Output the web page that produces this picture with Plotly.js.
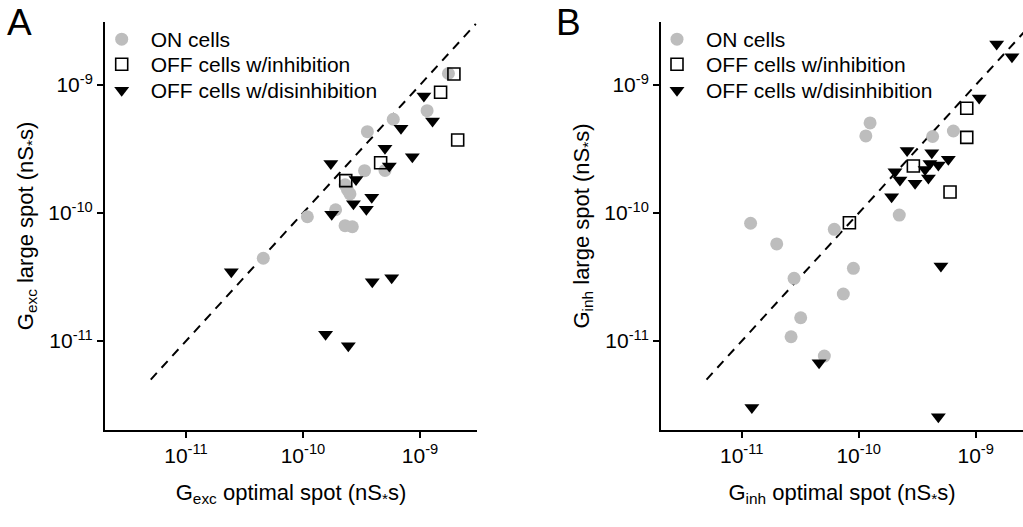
<!DOCTYPE html>
<html>
<head>
<meta charset="utf-8">
<script src="https://cdn.plot.ly/plotly-3.0.1.min.js"></script>
<style>html,body{margin:0;padding:0;background:#fff;}#chart{width:1023px;height:527px;}</style>
</head>
<body>
<div id="chart"></div>
<script>
// ---------- Panel A: G_exc (nS*s) ----------
var excOnX   = [4.58e-11, 1.09e-10, 1.90e-10, 2.29e-10, 2.64e-10, 2.29e-10, 2.52e-10, 2.40e-10, 3.36e-10, 5.02e-10, 3.55e-10, 5.91e-10, 1.15e-9, 1.75e-9];
var excOnY   = [4.43e-11, 9.35e-11, 1.06e-10, 7.96e-11, 7.81e-11, 1.66e-10, 1.41e-10, 1.52e-10, 2.14e-10, 2.15e-10, 4.32e-10, 5.40e-10, 6.30e-10, 1.23e-9];
var excInhX  = [2.32e-10, 4.61e-10, 1.50e-9, 1.95e-9, 2.10e-9];
var excInhY  = [1.79e-10, 2.47e-10, 8.77e-10, 1.22e-9, 3.72e-10];
var excDisX  = [2.44e-11, 1.56e-10, 2.44e-10, 3.91e-10, 5.73e-10, 1.73e-10, 5.02e-10, 8.60e-10, 6.88e-10, 1.08e-9, 1.28e-9, 3.87e-10, 3.48e-10, 2.70e-10, 1.76e-10, 2.84e-10, 5.47e-10];
var excDisY  = [3.48e-11, 1.13e-11, 9.2e-12, 2.90e-11, 3.12e-11, 2.44e-10, 3.20e-10, 2.75e-10, 4.59e-10, 8.2e-10, 5.23e-10, 1.33e-10, 1.07e-10, 1.18e-10, 9.8e-11, 1.83e-10, 2.33e-10];

// ---------- Panel B: G_inh (nS*s) ----------
var inhOnX   = [1.19e-11, 1.99e-11, 2.80e-11, 3.19e-11, 2.64e-11, 5.08e-11, 6.18e-11, 9.0e-11, 7.38e-11, 2.22e-10, 1.25e-10, 1.15e-10, 4.28e-10, 6.44e-10];
var inhOnY   = [8.32e-11, 5.73e-11, 3.09e-11, 1.52e-11, 1.08e-11, 7.63e-12, 7.46e-11, 3.70e-11, 2.33e-11, 9.64e-11, 5.05e-10, 4.0e-10, 3.96e-10, 4.37e-10];
var inhInhX  = [8.32e-11, 2.93e-10, 6.03e-10, 8.38e-10, 8.38e-10];
var inhInhY  = [8.39e-11, 2.33e-10, 1.46e-10, 3.90e-10, 6.58e-10];
var inhDisX  = [1.51e-9, 2.04e-9, 1.07e-9, 2.59e-10, 4.21e-10, 5.83e-10, 4.79e-10, 4.06e-10, 3.69e-10, 3.94e-10, 3.03e-10, 2.25e-10, 2.04e-10, 1.91e-10, 5.04e-10, 4.79e-10, 4.58e-11, 1.22e-11];
var inhDisY  = [2.09e-9, 1.66e-9, 7.91e-10, 3.08e-10, 2.96e-10, 2.63e-10, 2.37e-10, 2.44e-10, 2.19e-10, 1.88e-10, 1.71e-10, 1.81e-10, 2.10e-10, 1.34e-10, 3.86e-11, 2.56e-12, 6.76e-12, 3.03e-12];

// unity (y = x) reference line end points
var unityLine = [5e-12, 3e-9];

// labels
var seriesNames = ["ON cells", "OFF cells w/inhibition", "OFF cells w/disinhibition"];
var tickVals = [1e-11, 1e-10, 1e-9];
var tickText = ["10<sup>-11</sup>", "10<sup>-10</sup>", "10<sup>-9</sup>"];

var FONT = "Liberation Sans, Arial, sans-serif";
var gray = "#bdbdbd";

function markerOn()  { return {symbol: "circle", size: 13, color: gray, line: {width: 0}}; }
function markerInh() { return {symbol: "square", size: 12, color: "rgba(255,255,255,0)", line: {width: 1.6, color: "#000"}}; }
function markerDis() { return {symbol: "triangle-down", size: 13, color: "#000", line: {width: 0}}; }

function panel(xa, ya, legs, onX, onY, inhX, inhY, disX, disY) {
  return [
    {type: "scatter", mode: "lines", x: unityLine, y: unityLine, xaxis: xa, yaxis: ya, showlegend: false,
     line: {color: "#000", width: 2, dash: "9px,7px"}, hoverinfo: "skip"},
    {type: "scatter", mode: "markers", name: seriesNames[0], x: onX, y: onY, xaxis: xa, yaxis: ya, legend: legs[0], marker: markerOn()},
    {type: "scatter", mode: "markers", name: seriesNames[1], x: inhX, y: inhY, xaxis: xa, yaxis: ya, legend: legs[1], marker: markerInh()},
    {type: "scatter", mode: "markers", name: seriesNames[2], x: disX, y: disY, xaxis: xa, yaxis: ya, legend: legs[2], marker: markerDis()}
  ];
}

var data = [].concat(
  panel("x", "y", ["legend", "legend2", "legend3"], excOnX, excOnY, excInhX, excInhY, excDisX, excDisY),
  panel("x2", "y2", ["legend4", "legend5", "legend6"], inhOnX, inhOnY, inhInhX, inhInhY, inhDisX, inhDisY)
);

function axisCommon() {
  return {
    type: "log", showgrid: false, zeroline: false, showline: true, linecolor: "#000", linewidth: 2,
    ticks: "outside", ticklen: 6, tickwidth: 2, tickcolor: "#000",
    tickmode: "array", tickvals: tickVals, ticktext: tickText,
    tickfont: {family: FONT, size: 21, color: "#000"}, mirror: false
  };
}

var TFONT = {family: FONT, size: 22, color: "#000"};
var xA = axisCommon(); xA.domain = [0, 0.4052]; xA.range = [-11.692, -8.513]; xA.anchor = "y";
xA.title = {text: "G<sub>exc</sub> optimal spot (nS<sub>*</sub>s)", font: TFONT, standoff: 18};
var yA = axisCommon(); yA.domain = [0, 1]; yA.range = [-11.695, -8.508]; yA.anchor = "x";
yA.title = {text: "G<sub>exc</sub> large spot (nS<sub>*</sub>s)", font: TFONT, standoff: 9};
var xB = axisCommon(); xB.domain = [0.6057, 1]; xB.range = [-11.690, -8.596]; xB.anchor = "y2";
xB.title = {text: "G<sub>inh</sub> optimal spot (nS<sub>*</sub>s)", font: TFONT, standoff: 18};
var yB = axisCommon(); yB.domain = [0, 1]; yB.range = [-11.695, -8.508]; yB.anchor = "x2";
yB.title = {text: "G<sub>inh</sub> large spot (nS<sub>*</sub>s)", font: TFONT, standoff: 9};

function legendCfg(xpaper, ypaper) {
  return {x: xpaper, y: ypaper, xanchor: "left", yanchor: "top", bgcolor: "rgba(0,0,0,0)", borderwidth: 0,
          itemwidth: 48, tracegroupgap: 0, font: {family: FONT, size: 21, color: "#000"}};
}

var rowY = [1.0074, 0.946, 0.8824];
var legAx = -0.0134, legBx = 0.5915;

var layout = {
  width: 1023, height: 527,
  margin: {l: 105, r: 0, t: 22, b: 97},
  paper_bgcolor: "#fff", plot_bgcolor: "#fff",
  font: {family: FONT, color: "#000"},
  xaxis: xA, yaxis: yA, xaxis2: xB, yaxis2: yB,
  showlegend: true,
  legend: legendCfg(legAx, rowY[0]),
  legend2: legendCfg(legAx, rowY[1]),
  legend3: legendCfg(legAx, rowY[2]),
  legend4: legendCfg(legBx, rowY[0]),
  legend5: legendCfg(legBx, rowY[1]),
  legend6: legendCfg(legBx, rowY[2]),
  annotations: [
    {text: "A", xref: "paper", yref: "paper", x: -0.109, y: 1.055, xanchor: "left", yanchor: "top", showarrow: false, font: {family: FONT, size: 37, color: "#000"}},
    {text: "B", xref: "paper", yref: "paper", x: 0.4895, y: 1.055, xanchor: "left", yanchor: "top", showarrow: false, font: {family: FONT, size: 37, color: "#000"}}
  ]
};

Plotly.newPlot("chart", data, layout, {displayModeBar: false, staticPlot: true});
</script>
</body>
</html>
